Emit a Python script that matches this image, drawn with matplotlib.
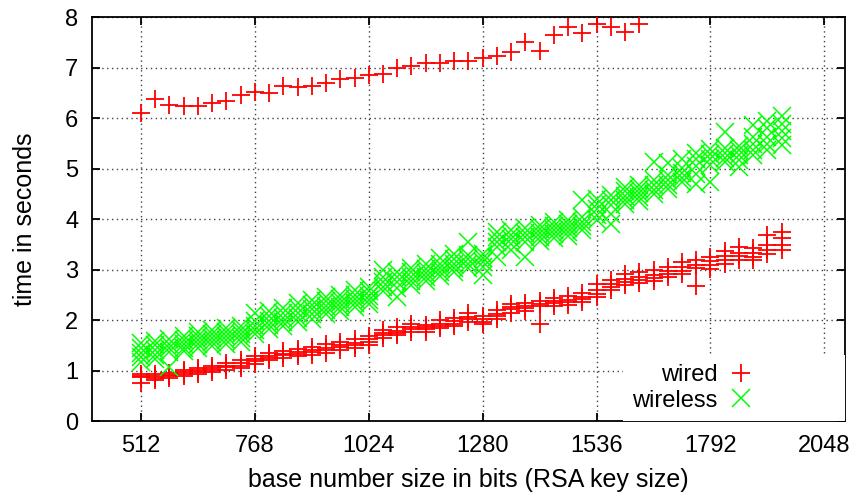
import matplotlib
matplotlib.use("Agg")
import matplotlib.pyplot as plt

plt.rcParams["font.family"] = ["Liberation Sans", "DejaVu Sans"]

# key sizes (bits) for the dense measurements
key_sizes = [512, 544, 576, 608, 640, 672, 704, 736, 768, 800, 832, 864, 896, 928,
             960, 992, 1024, 1056, 1088, 1120, 1152, 1184, 1216, 1248, 1280, 1312,
             1344, 1376, 1408, 1440, 1472, 1504, 1536, 1568, 1600, 1632, 1664, 1696,
             1728, 1760, 1792, 1824, 1856, 1888, 1920, 1952]

# several repeated runs per key size (seconds)
wired_times = [
    [0.94, 0.90, 0.87, 0.76], [0.93, 0.89, 0.86, 0.82], [0.95, 0.92, 0.89, 0.85],
    [1.01, 0.97, 0.94, 0.90], [1.05, 1.01, 0.97, 0.93], [1.09, 1.05, 1.02, 0.97],
    [1.15, 1.10, 1.07, 1.02], [1.20, 1.15, 1.10, 1.05], [1.29, 1.23, 1.19, 1.13],
    [1.34, 1.29, 1.25, 1.20], [1.38, 1.33, 1.30, 1.24], [1.43, 1.37, 1.33, 1.28],
    [1.46, 1.40, 1.36, 1.31], [1.52, 1.45, 1.41, 1.35], [1.56, 1.50, 1.46, 1.40],
    [1.62, 1.55, 1.51, 1.45], [1.68, 1.62, 1.57, 1.51], [1.80, 1.74, 1.70, 1.64],
    [1.86, 1.79, 1.75, 1.70], [1.93, 1.86, 1.82, 1.77], [1.91, 1.86, 1.82, 1.77],
    [2.00, 1.93, 1.89, 1.84], [2.05, 1.98, 1.93, 1.88], [2.14, 2.07, 2.03, 1.97],
    [2.08, 2.02, 1.97, 1.92], [2.20, 2.13, 2.09, 2.03], [2.32, 2.25, 2.21, 2.15],
    [2.33, 2.27, 2.23, 2.17], [2.38, 2.32, 2.28, 1.92], [2.43, 2.37, 2.33, 2.27],
    [2.47, 2.40, 2.36, 2.30], [2.53, 2.46, 2.42, 2.36], [2.72, 2.60, 2.52, 2.45],
    [2.80, 2.72, 2.66, 2.60], [2.91, 2.82, 2.76, 2.70], [2.95, 2.86, 2.80, 2.73],
    [2.99, 2.90, 2.84, 2.77], [3.05, 2.97, 2.91, 2.85], [3.14, 3.05, 2.98, 2.91],
    [3.18, 3.10, 3.03, 2.67], [3.25, 3.16, 3.10, 3.02], [3.37, 3.26, 3.19, 3.12],
    [3.45, 3.33, 3.26, 3.18], [3.42, 3.32, 3.25, 3.18], [3.68, 3.49, 3.38, 3.30],
    [3.75, 3.62, 3.48, 3.38],
]

wireless_times = [
    [1.55, 1.45, 1.35, 1.27, 1.17], [1.58, 1.50, 1.40, 1.30, 1.22],
    [1.62, 1.52, 1.44, 1.36, 1.07], [1.68, 1.60, 1.52, 1.44, 1.38],
    [1.76, 1.68, 1.60, 1.52, 1.45], [1.80, 1.72, 1.64, 1.56, 1.48],
    [1.84, 1.76, 1.68, 1.60, 1.52], [1.88, 1.80, 1.72, 1.64, 1.57],
    [2.15, 1.98, 1.88, 1.80, 1.72], [2.18, 2.08, 1.98, 1.90, 1.82],
    [2.24, 2.14, 2.05, 1.96, 1.88], [2.34, 2.24, 2.14, 2.05, 1.96],
    [2.40, 2.30, 2.21, 2.12, 2.03], [2.46, 2.37, 2.28, 2.20, 2.12],
    [2.50, 2.42, 2.34, 2.26, 2.18], [2.59, 2.50, 2.41, 2.33, 2.25],
    [2.66, 2.57, 2.48, 2.40, 2.32], [2.99, 2.85, 2.75, 2.66, 2.57],
    [2.95, 2.85, 2.75, 2.64, 2.46], [3.04, 2.95, 2.86, 2.78, 2.70],
    [3.12, 3.02, 2.93, 2.85, 2.77], [3.22, 3.12, 3.04, 2.96, 2.88],
    [3.30, 3.20, 3.12, 3.04, 2.96], [3.55, 3.28, 3.20, 3.12, 3.04],
    [3.30, 3.22, 3.14, 3.05, 2.89], [3.74, 3.64, 3.55, 3.45, 3.25],
    [3.78, 3.68, 3.60, 3.50, 3.38], [3.82, 3.72, 3.64, 3.55, 3.25],
    [3.88, 3.80, 3.72, 3.64, 3.56], [3.95, 3.86, 3.78, 3.70, 3.62],
    [3.98, 3.90, 3.82, 3.74, 3.66], [4.37, 4.05, 3.95, 3.86, 3.78],
    [4.40, 4.30, 4.20, 4.08, 3.98], [4.48, 4.38, 4.28, 4.10, 3.90],
    [4.64, 4.55, 4.46, 4.38, 4.30], [4.68, 4.60, 4.52, 4.44, 4.36],
    [5.12, 4.78, 4.68, 4.58, 4.50], [5.10, 4.88, 4.78, 4.68, 4.60],
    [5.18, 5.02, 4.92, 4.82, 4.74], [5.30, 5.18, 5.05, 4.90, 4.69],
    [5.38, 5.28, 5.18, 5.08, 4.73], [5.72, 5.40, 5.30, 5.20, 5.12],
    [5.45, 5.36, 5.26, 5.16, 5.03], [5.86, 5.62, 5.48, 5.36, 5.26],
    [5.95, 5.80, 5.62, 5.48, 5.36], [6.05, 5.88, 5.74, 5.60, 5.46],
]

# slow wired series (upper band)
slow_sizes = [512, 544, 576, 608, 640, 672, 704, 736, 768, 800, 832, 864, 896, 928,
              960, 992, 1024, 1056, 1088, 1120, 1152, 1184, 1216, 1248, 1280, 1312,
              1344, 1376, 1408, 1440, 1472, 1504, 1536, 1568, 1600, 1632]
slow_times = [6.09, 6.37, 6.25, 6.23, 6.23, 6.30, 6.33, 6.45, 6.51, 6.50, 6.63, 6.61,
              6.63, 6.69, 6.77, 6.79, 6.85, 6.87, 6.99, 7.04, 7.09, 7.09, 7.13, 7.13,
              7.18, 7.23, 7.30, 7.51, 7.32, 7.65, 7.80, 7.69, 7.87, 7.80, 7.70, 7.86]

x_ticks = [512, 768, 1024, 1280, 1536, 1792, 2048]


def flatten(sizes, runs):
    xs, ys = [], []
    for s, vals in zip(sizes, runs):
        for v in vals:
            xs.append(s)
            ys.append(v)
    return xs, ys


fig = plt.figure(figsize=(8.56, 4.96), dpi=100)
ax = fig.add_axes([0.1075, 0.151, 0.8795, 0.8147])

wx, wy = flatten(key_sizes, wired_times)
lx, ly = flatten(key_sizes, wireless_times)

ax.plot(wx, wy, linestyle="none", marker="+", color="#ff0000", ms=13, mew=1.3,
        label="wired", zorder=3)
ax.plot(slow_sizes, slow_times, linestyle="none", marker="+", color="#ff0000",
        ms=13, mew=1.3, zorder=3)
ax.plot(lx, ly, linestyle="none", marker="x", color="#00ff00", ms=12.5, mew=1.1,
        label="wireless", zorder=4)

ax.set_xlim(402, 2094)
ax.set_ylim(0, 8)
ax.set_xticks(x_ticks)
ax.set_yticks(range(0, 9))

ax.grid(True, linestyle=(0, (1, 2.5)), color="0.25", linewidth=1.0)
ax.set_axisbelow(True)

for s in ax.spines.values():
    s.set_linewidth(1.3)
ax.tick_params(direction="in", length=6, width=1.3, top=True, right=True,
               labelsize=17, pad=10)

ax.set_xlabel("base number size in bits (RSA key size)", fontsize=18, labelpad=8)
ax.set_ylabel("time in seconds", fontsize=18, labelpad=20)

leg = ax.legend(loc="lower right", markerfirst=False, fontsize=17, frameon=True,
                fancybox=False, framealpha=1, edgecolor="none", facecolor="white",
                borderaxespad=0, borderpad=0.4, handlelength=8, handletextpad=-3,
                labelspacing=0.15)
leg.set_zorder(5)

fig.savefig("out.png", dpi=100)
